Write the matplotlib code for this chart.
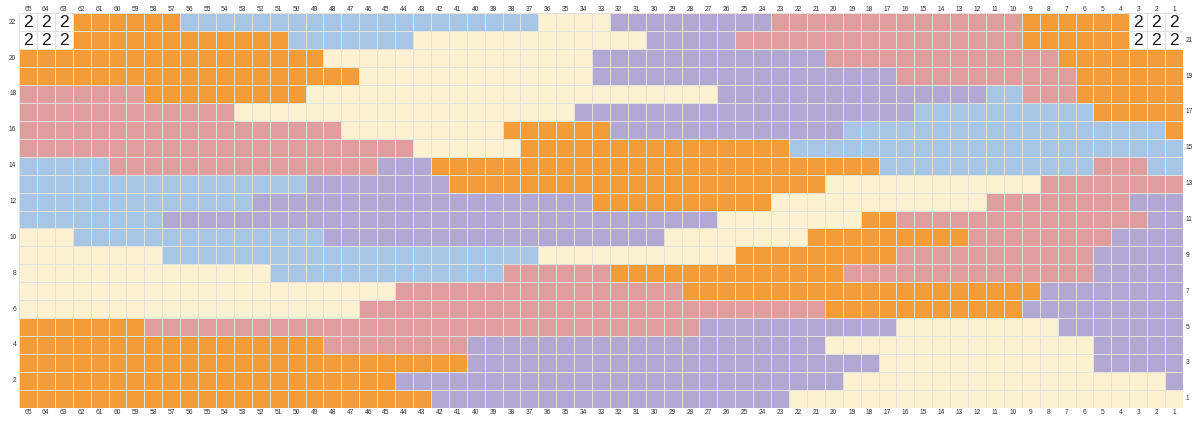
import matplotlib
matplotlib.use("Agg")
import matplotlib.pyplot as plt
from matplotlib.colors import ListedColormap
import numpy as np

# W = white cell with "2", O = orange, B = blue, C = cream, P = purple, K = pink
rows = {
    22: "W3 O6 B20 C4 P9 K14 O6 W3",
    21: "W3 O12 B7 C13 P5 K16 O6 W3",
    20: "O17 C15 P13 K13 O7",
    19: "O19 C13 P17 K10 O6",
    18: "K7 O9 C23 P15 B2 K3 O6",
    17: "K12 C19 P19 B10 O5",
    16: "K18 C9 O6 P13 B18 O1",
    15: "K22 C6 O15 B22",
    14: "B5 K15 P3 O25 B12 K3 B2",
    13: "B16 P8 O21 C12 K8",
    12: "B13 P19 O10 C12 K8 P3",
    11: "B8 P31 C8 O2 K14 P2",
    10: "C3 B14 P19 C8 O9 K8 P4",
    9: "C8 B21 C11 O9 K11 P5",
    8: "C14 B13 K6 O13 K14 P5",
    7: "C21 K16 O20 P8",
    6: "C19 K26 O11 P9",
    5: "O7 K31 P11 C9 P7",
    4: "O17 K8 P20 C15 P5",
    3: "O25 P23 C12 P5",
    2: "O21 P25 C18 P1",
    1: "O23 P20 C22",
}
n_cols = 65
n_rows = 22
col_labels = list(range(n_cols, 0, -1))
mark_text = "2"

palette = {
    "W": "#ffffff",
    "O": "#f29d38",
    "B": "#a7c5e4",
    "C": "#fcf2d1",
    "P": "#b2a8d4",
    "K": "#e09d9d",
}
keys = list(palette.keys())

# build the grid (row index 0 = row 1 at the bottom)
grid = np.zeros((n_rows, n_cols), dtype=int)
for r, spec in rows.items():
    cells = []
    for run in spec.split():
        cells += [keys.index(run[0])] * int(run[1:])
    grid[r - 1, :] = cells

W, H = 1201, 421
fig = plt.figure(figsize=(W / 100, H / 100), dpi=100)
fig.patch.set_facecolor("white")
x0, x1 = 19, 1183
y0, y1 = 13.3, 407.7
ax = fig.add_axes([x0 / W, 1 - y1 / H, (x1 - x0) / W, (y1 - y0) / H])

cmap = ListedColormap([palette[k] for k in keys])
ax.pcolormesh(np.arange(n_cols + 1), np.arange(n_rows + 1), grid,
              cmap=cmap, vmin=-0.5, vmax=len(keys) - 0.5,
              edgecolors="#e4e0dc", linewidth=0.55)
ax.set_xlim(0, n_cols)
ax.set_ylim(0, n_rows)
ax.set_axis_off()

# "2" in the white cells
for j in range(n_rows):
    for i in range(n_cols):
        if keys[grid[j, i]] == "W":
            ax.text(i + 0.5, j + 0.47, mark_text, ha="center", va="center",
                    fontsize=12.5, family="Liberation Sans", color="#1a1a1a")

lab = dict(fontsize=4.8, color="#333333", family="Liberation Sans")
# column numbers top and bottom
for i, c in enumerate(col_labels):
    ax.text(i + 0.5, n_rows + 0.2, str(c), ha="center", va="center", **lab)
    ax.text(i + 0.5, -0.25, str(c), ha="center", va="center", **lab)

# row numbers: even on the left, odd on the right
for r in range(1, n_rows + 1):
    if r % 2 == 0:
        ax.text(-0.15, r - 0.5, str(r), ha="right", va="center", **lab)
    else:
        ax.text(n_cols + 0.15, r - 0.5, str(r), ha="left", va="center", **lab)

fig.savefig("out.png", dpi=100, facecolor="white")
